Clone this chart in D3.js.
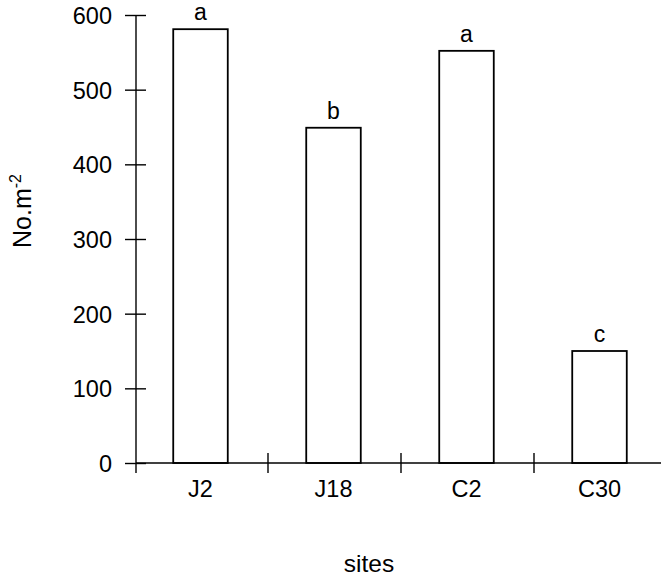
<!DOCTYPE html>
<html>
<head>
<meta charset="utf-8">
<script src="https://cdn.jsdelivr.net/npm/d3@7"></script>
<style>
  html, body { margin: 0; padding: 0; background: #fff; }
  text { font-family: "Liberation Sans", Arial, Helvetica, sans-serif; fill: #000; }
</style>
</head>
<body>
<svg id="chart" width="661" height="579"></svg>
<script>
const categories = ["J2", "J18", "C2", "C30"];
const values = [581, 449, 552, 150];
const letters = ["a", "b", "a", "c"];
const yTicks = [0, 100, 200, 300, 400, 500, 600];

const svg = d3.select("#chart");
const x = d3.scaleBand().domain(categories).range([135, 667]);
const y = d3.scaleLinear().domain([0, 600]).range([463, 15]);
const barW = x.bandwidth() * 0.41;

// Bars
svg.append("g").selectAll("rect").data(categories).join("rect")
  .attr("x", d => x(d) + x.bandwidth() / 2 - barW / 2 - 1)
  .attr("y", (d, i) => y(values[i]))
  .attr("width", barW)
  .attr("height", (d, i) => y(0) - y(values[i]))
  .attr("fill", "#fff")
  .attr("stroke", "#000")
  .attr("stroke-width", 1.8);

// Significance letters
svg.append("g").selectAll("text").data(categories).join("text")
  .attr("x", d => x(d) + x.bandwidth() / 2 - 1)
  .attr("y", (d, i) => y(values[i]) - 9)
  .attr("text-anchor", "middle")
  .attr("font-size", 23)
  .text((d, i) => letters[i]);

// Y axis
const yAxis = svg.append("g").attr("transform", "translate(136,0)")
  .call(d3.axisLeft(y).tickValues(yTicks).tickSize(11).tickPadding(13));
yAxis.select(".domain").remove();
yAxis.selectAll(".tick line").attr("x1", 10).attr("stroke", "#000").attr("stroke-width", 1.4);
yAxis.selectAll(".tick text").attr("font-size", 23.5).attr("font-family", "Liberation Sans, Arial, sans-serif").attr("dy", "0.36em");
yAxis.append("line").attr("x1", 0).attr("x2", 0).attr("y1", y(600)).attr("y2", 473)
  .attr("stroke", "#000").attr("stroke-width", 1.4);

// X axis
const xAxis = svg.append("g").attr("transform", "translate(0,463)")
  .call(d3.axisBottom(x).tickSize(0).tickPadding(17));
xAxis.select(".domain").remove();
xAxis.selectAll(".tick text").attr("font-size", 23.5).attr("font-family", "Liberation Sans, Arial, sans-serif")
  .attr("dx", -1);
xAxis.append("line").attr("x1", 136).attr("x2", 661).attr("y1", 0).attr("y2", 0)
  .attr("stroke", "#000").attr("stroke-width", 1.4);
xAxis.selectAll(".sep").data(categories.slice(1)).join("line")
  .attr("class", "sep")
  .attr("x1", d => x(d)).attr("x2", d => x(d))
  .attr("y1", -10).attr("y2", 10)
  .attr("stroke", "#000").attr("stroke-width", 1.4);

// Axis titles
svg.append("text").attr("x", 369).attr("y", 572).attr("text-anchor", "middle")
  .attr("font-size", 24.5).text("sites");

const yl = svg.append("text")
  .attr("transform", "translate(31,211) rotate(-90)")
  .attr("text-anchor", "middle")
  .attr("font-size", 25);
yl.append("tspan").text("No.m");
yl.append("tspan").attr("font-size", 16).attr("dy", -10).text("-2");
</script>
</body>
</html>
